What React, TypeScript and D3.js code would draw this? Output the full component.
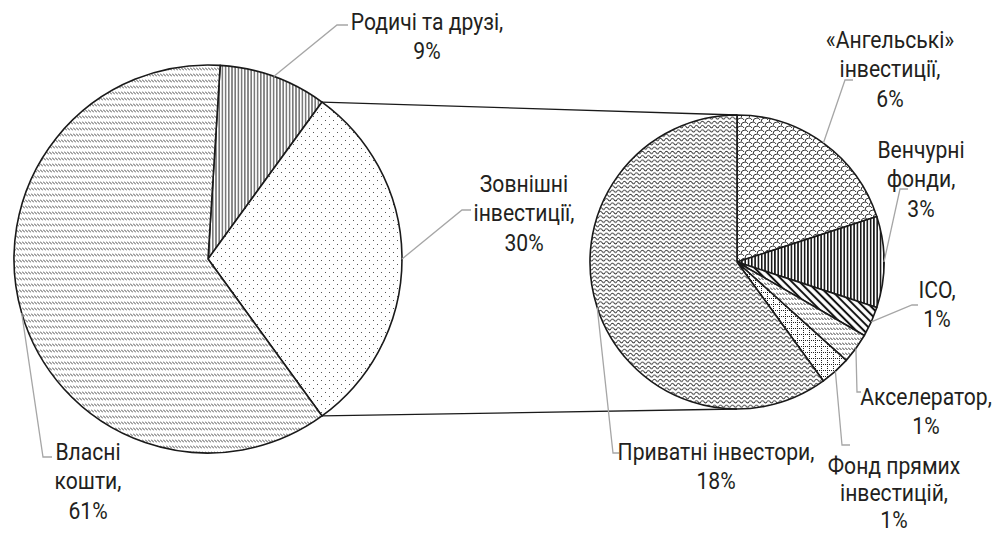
import React, { useEffect, useRef } from "react";
import * as d3 from "d3";

// main pie
const mainNames = ["Родичі та друзі", "Зовнішні\nінвестиції", "Власні\nкошти"];
const mainValues = [9, 30, 61];
const splitIndex = 1; // slice that is broken out into the second pie

// secondary pie (breakdown of "Зовнішні інвестиції")
const subNames = [
  "«Ангельські»\nінвестиції",
  "Венчурні\nфонди",
  "ICO",
  "Акселератор",
  "Фонд прямих\nінвестицій",
  "Приватні інвестори",
];
const subValues = [6, 3, 1, 1, 1, 18];

const W = 993;
const H = 535;
const FONT = "Roboto, 'Noto Sans', sans-serif";
const FONT_SIZE = 24;
const SQUEEZE = 0.88; // narrower glyphs, closer to the original condensed face
const TEXT = "#231f20";
const LEADER = "#a6a6a6";
const LINE_H = 29.5;

const main = { cx: 208, cy: 259, r: 194 };
const sub = { cx: 737, cy: 262, r: 147 };

// label layout: text centre x, first baseline y, leader elbow and end
const mainLabelPos = [
  { x: 427, y: 30, elbow: [337, 25], end: [348, 25] },
  { x: 524, y: 192, elbow: [462, 210], end: [471, 210] },
  { x: 88, y: 460, elbow: [43, 457], end: [52, 457] },
];
const subLabelPos = [
  { x: 890, y: 48, elbow: [845, 80], end: [853, 80] },
  { x: 921, y: 158, elbow: [900, 189], end: [908, 189] },
  { x: 937, y: 298, elbow: [912, 305], end: [918, 305] },
  { x: 926, y: 405, elbow: [857, 392], end: [861, 392] },
  { x: 894, y: 474, elbow: [842, 445], end: [850, 445], lh: 27 },
  { x: 716, y: 460, elbow: [613, 453], end: [619, 453] },
];

const mainPatterns = ["p-family", "p-ext", "p-own"];
const subPatterns = ["p-angel", "p-vc", "p-ico", "p-accel", "p-fund", "p-priv"];

function addPatterns(defs: any) {
  const pat = (id: string, w: number, h: number, tr?: string) => {
    const p = defs
      .append("pattern")
      .attr("id", id)
      .attr("patternUnits", "userSpaceOnUse")
      .attr("width", w)
      .attr("height", h);
    if (tr) p.attr("patternTransform", tr);
    p.append("rect").attr("width", w).attr("height", h).attr("fill", "#fff");
    return p;
  };

  // dashed downward diagonal rows
  pat("p-own", 3, 6)
    .append("path")
    .attr("d", "M0,0.5 L3,3.5")
    .attr("stroke", "#4a4a4a")
    .attr("stroke-width", 1);

  // narrow vertical
  pat("p-family", 3.2, 10)
    .append("line")
    .attr("x1", 1.6).attr("x2", 1.6).attr("y1", 0).attr("y2", 10)
    .attr("stroke", "#2a2a2a")
    .attr("stroke-width", 1);

  // sparse dots
  const ext = pat("p-ext", 8, 8);
  ext.append("rect").attr("x", 1).attr("y", 1).attr("width", 1).attr("height", 1).attr("fill", "#555");
  ext.append("rect").attr("x", 5).attr("y", 5).attr("width", 1).attr("height", 1).attr("fill", "#555");

  // shingle / scales
  pat("p-angel", 8, 8)
    .append("path")
    .attr("d", "M0,4 Q0,0 4,0 M4,8 Q4,4 8,4 M0,4 Q2,4 3,6 M4,0 Q6,0 7,2")
    .attr("fill", "none")
    .attr("stroke", "#222")
    .attr("stroke-width", 0.9);

  // dark vertical
  pat("p-vc", 3.3, 10)
    .append("line")
    .attr("x1", 1.6).attr("x2", 1.6).attr("y1", 0).attr("y2", 10)
    .attr("stroke", "#111")
    .attr("stroke-width", 1.6);

  // wide downward diagonal
  pat("p-ico", 5.5, 10, "rotate(-45)")
    .append("line")
    .attr("x1", 2.75).attr("x2", 2.75).attr("y1", 0).attr("y2", 10)
    .attr("stroke", "#111")
    .attr("stroke-width", 2);

  // small dashed diagonal
  pat("p-accel", 3, 5)
    .append("path")
    .attr("d", "M0,0.5 L2.5,3")
    .attr("stroke", "#333")
    .attr("stroke-width", 1);

  // dotted grid
  pat("p-fund", 6, 6)
    .append("path")
    .attr("d", "M0,0.5 H6 M0.5,0 V6")
    .attr("stroke", "#222")
    .attr("stroke-width", 1)
    .attr("stroke-dasharray", "1,1");

  // wave
  pat("p-priv", 6, 4.3)
    .append("path")
    .attr("d", "M0,2.2 C1,0.6 2,0.6 3,2.2 S5,3.8 6,2.2")
    .attr("fill", "none")
    .attr("stroke", "#222")
    .attr("stroke-width", 0.9);
}

export default function App() {
  const ref = useRef<SVGSVGElement>(null);

  useEffect(() => {
    document.body.style.margin = "0";
    const svg = d3.select(ref.current);
    svg.selectAll("*").remove();
    addPatterns(svg.append("defs"));

    const total = d3.sum(mainValues);
    const before = d3.sum(mainValues.slice(0, splitIndex));
    // rotate main pie so the split slice faces the secondary pie
    const start = Math.PI / 2 - ((before + mainValues[splitIndex] / 2) / total) * 2 * Math.PI;

    const mainArcs = d3
      .pie<number>()
      .sort(null)
      .startAngle(start)
      .endAngle(start + 2 * Math.PI)(mainValues);
    const subArcs = d3.pie<number>().sort(null)(subValues);

    const mainArc = d3.arc<any>().innerRadius(0).outerRadius(main.r);
    const subArc = d3.arc<any>().innerRadius(0).outerRadius(sub.r);

    const edge = (c: { cx: number; cy: number; r: number }, a: number): [number, number] => [
      c.cx + c.r * Math.sin(a),
      c.cy - c.r * Math.cos(a),
    ];

    const gMain = svg.append("g").attr("transform", `translate(${main.cx},${main.cy})`);
    gMain
      .selectAll("path")
      .data(mainArcs)
      .join("path")
      .attr("d", mainArc)
      .attr("fill", (d, i) => `url(#${mainPatterns[i]})`)
      .attr("stroke", "#1a1a1a")
      .attr("stroke-width", 1.6)
      .attr("stroke-linejoin", "round");

    const gSub = svg.append("g").attr("transform", `translate(${sub.cx},${sub.cy})`);
    gSub
      .selectAll("path")
      .data(subArcs)
      .join("path")
      .attr("d", subArc)
      .attr("fill", (d, i) => `url(#${subPatterns[i]})`)
      .attr("stroke", "#1a1a1a")
      .attr("stroke-width", 1.6)
      .attr("stroke-linejoin", "round");

    // connector lines between the pies
    const split = mainArcs[splitIndex];
    const conn = [
      [edge(main, split.startAngle), edge(sub, 0)],
      [edge(main, split.endAngle), edge(sub, Math.PI)],
    ];
    svg
      .append("g")
      .selectAll("line")
      .data(conn)
      .join("line")
      .attr("x1", (d) => d[0][0])
      .attr("y1", (d) => d[0][1])
      .attr("x2", (d) => d[1][0])
      .attr("y2", (d) => d[1][1])
      .attr("stroke", "#1a1a1a")
      .attr("stroke-width", 1.3);

    const line = d3.line();
    const labels: { lines: string[]; pos: any; from: [number, number] }[] = [];
    mainArcs.forEach((a, i) => {
      labels.push({
        lines: (mainNames[i] + ",\n" + mainValues[i] + "%").split("\n"),
        pos: mainLabelPos[i],
        from: edge(main, (a.startAngle + a.endAngle) / 2),
      });
    });
    subArcs.forEach((a, i) => {
      labels.push({
        lines: (subNames[i] + ",\n" + subValues[i] + "%").split("\n"),
        pos: subLabelPos[i],
        from: edge(sub, (a.startAngle + a.endAngle) / 2),
      });
    });

    svg
      .append("g")
      .selectAll("path")
      .data(labels)
      .join("path")
      .attr("d", (d) => line([d.from, d.pos.elbow, d.pos.end]))
      .attr("fill", "none")
      .attr("stroke", LEADER)
      .attr("stroke-width", 1.3);

    svg
      .append("g")
      .attr("font-family", FONT)
      .attr("font-size", FONT_SIZE)
      .attr("fill", TEXT)
      .attr("text-anchor", "middle")
      .selectAll("text")
      .data(labels)
      .join("text")
      .attr("transform", (d) => `translate(${d.pos.x},${d.pos.y}) scale(${SQUEEZE},1)`)
      .each(function (d) {
        d3.select(this)
          .selectAll("tspan")
          .data(d.lines)
          .join("tspan")
          .attr("x", 0)
          .attr("dy", (_, j) => (j === 0 ? 0 : d.pos.lh || LINE_H))
          .text((t) => t);
      });
  }, []);

  return <svg ref={ref} width={W} height={H} style={{ display: "block", background: "#fff" }} />;
}
